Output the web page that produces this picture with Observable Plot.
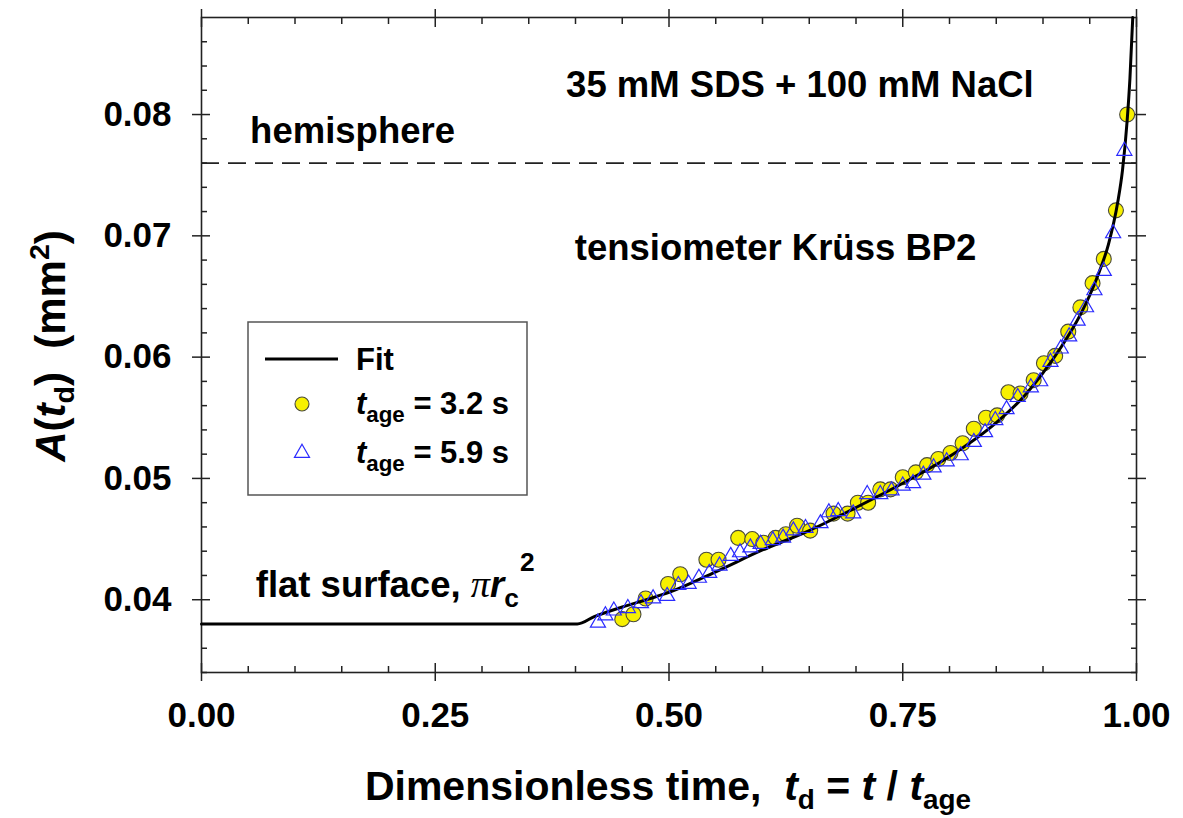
<!DOCTYPE html>
<html><head><meta charset="utf-8">
<script src="https://cdn.jsdelivr.net/npm/d3@7"></script>
<script src="https://cdn.jsdelivr.net/npm/@observablehq/plot@0.6"></script>
<style>
body{margin:0;background:#fff;font-family:"Liberation Sans",Arial,sans-serif;}
#wrap{position:relative;width:1183px;height:818px;}
#legend{position:absolute;left:0;top:0;pointer-events:none;}
</style></head><body><div id="wrap"></div>
<script>
// ---- data ----
const fitT = [0, 0.402, 0.42, 0.45, 0.48, 0.50, 0.55, 0.60, 0.65, 0.70, 0.75, 0.80, 0.85, 0.88, 0.90, 0.92, 0.94, 0.95, 0.96, 0.97, 0.98, 0.985, 0.99, 0.993, 0.996];
const fitA = [0.038, 0.038, 0.0386, 0.0394, 0.0401, 0.0406, 0.0423, 0.0441, 0.0457, 0.0476, 0.0496, 0.0518, 0.0546, 0.0568, 0.0587, 0.0609, 0.0635, 0.0651, 0.0670, 0.0693, 0.0728, 0.0754, 0.0795, 0.0830, 0.0880];

const t32 = [0.450, 0.462, 0.475, 0.499, 0.512, 0.540, 0.553, 0.574, 0.589, 0.601, 0.614, 0.625, 0.637, 0.651, 0.676, 0.691, 0.702, 0.713, 0.726, 0.737, 0.750, 0.764, 0.776, 0.788, 0.801, 0.814, 0.826, 0.839, 0.851, 0.863, 0.876, 0.890, 0.901, 0.913, 0.927, 0.940, 0.953, 0.965, 0.978, 0.990];
const a32 = [0.0384, 0.0388, 0.0401, 0.0413, 0.0421, 0.0433, 0.0433, 0.0451, 0.0450, 0.0447, 0.0451, 0.0454, 0.0461, 0.0457, 0.0471, 0.0471, 0.0480, 0.0480, 0.0491, 0.0491, 0.0501, 0.0505, 0.0511, 0.0516, 0.0521, 0.0529, 0.0541, 0.0550, 0.0552, 0.0571, 0.0570, 0.0581, 0.0595, 0.0601, 0.0621, 0.0641, 0.0661, 0.0681, 0.0721, 0.0800];

const t59 = [0.424, 0.432, 0.441, 0.456, 0.470, 0.483, 0.498, 0.510, 0.521, 0.532, 0.543, 0.554, 0.566, 0.576, 0.587, 0.598, 0.611, 0.622, 0.633, 0.646, 0.662, 0.671, 0.681, 0.697, 0.712, 0.726, 0.738, 0.750, 0.761, 0.772, 0.783, 0.797, 0.812, 0.826, 0.838, 0.849, 0.861, 0.873, 0.887, 0.897, 0.908, 0.919, 0.928, 0.937, 0.946, 0.955, 0.965, 0.975, 0.987];
const a59 = [0.0381, 0.0387, 0.0391, 0.0393, 0.0397, 0.0401, 0.0403, 0.0412, 0.0413, 0.0418, 0.0422, 0.0428, 0.0436, 0.0439, 0.0443, 0.0446, 0.0449, 0.0451, 0.0457, 0.0459, 0.0463, 0.0472, 0.0473, 0.0471, 0.0487, 0.0487, 0.0490, 0.0494, 0.0496, 0.0503, 0.0509, 0.0514, 0.0519, 0.0530, 0.0538, 0.0548, 0.0557, 0.0567, 0.0575, 0.0580, 0.0596, 0.0607, 0.0617, 0.0630, 0.0641, 0.0655, 0.0671, 0.0702, 0.0770];

const hemisphereA = [0.076];

const xTicks = [0, 0.25, 0.5, 0.75, 1];
const xMinor = [0.05, 0.1, 0.15, 0.2, 0.3, 0.35, 0.4, 0.45, 0.55, 0.6, 0.65, 0.7, 0.8, 0.85, 0.9, 0.95];
const yTicks = [0.04, 0.05, 0.06, 0.07, 0.08];
const yMinor = [0.034, 0.036, 0.038, 0.042, 0.044, 0.046, 0.048, 0.052, 0.054, 0.056, 0.058, 0.062, 0.064, 0.066, 0.068, 0.072, 0.074, 0.076, 0.078, 0.082, 0.084, 0.086];

const noteText = ["35 mM SDS + 100 mM NaCl", "hemisphere", "tensiometer Krüss BP2", "flat surface, πr"];
const noteT = [0.640, 0.052, 0.614, 0.058];
const noteA = [0.0824, 0.0786, 0.0690, 0.04115];
const noteAnchor = ["middle", "start", "middle", "start"];

// ---- build tables ----
const fit = fitT.map((t, i) => ({t, a: fitA[i]}));
const s32 = t32.map((t, i) => ({t, a: a32[i]}));
const s59 = t59.map((t, i) => ({t, a: a59[i]}));
const notes = noteText.map((text, i) => ({text, t: noteT[i], a: noteA[i], anchor: noteAnchor[i]}));

const ink = "#222";
const blank = () => "";
const axisBase = {label: null, stroke: ink, strokeWidth: 1.5};
const FONT = "'Liberation Sans', Arial, sans-serif";

const svg = Plot.plot({
  width: 1183, height: 818,
  marginLeft: 201, marginRight: 47, marginTop: 17, marginBottom: 146,
  x: {domain: [0, 1]},
  y: {domain: [0.034, 0.088]},
  style: {fontFamily: FONT, color: "#000", background: "#fff"},
  marks: [
    Plot.ruleY(hemisphereA, {stroke: ink, strokeWidth: 1.8, strokeDasharray: "18,9"}),
    // bottom axis
    Plot.axisX(xTicks, {...axisBase, anchor: "bottom", tickSize: 9, tickPadding: 21, tickFormat: d3.format(".2f"), fontSize: 35, fontWeight: "bold"}),
    Plot.axisX(xTicks, {...axisBase, anchor: "bottom", tickSize: -9, tickFormat: blank}),
    Plot.axisX(xMinor, {...axisBase, anchor: "bottom", tickSize: -6, tickFormat: blank}),
    // top axis
    Plot.axisX(xTicks, {...axisBase, anchor: "top", tickSize: 9, tickFormat: blank}),
    Plot.axisX(xTicks, {...axisBase, anchor: "top", tickSize: -9, tickFormat: blank}),
    Plot.axisX(xMinor, {...axisBase, anchor: "top", tickSize: -6, tickFormat: blank}),
    // left axis
    Plot.axisY(yTicks, {...axisBase, anchor: "left", tickSize: 9, tickPadding: 21, tickFormat: d3.format(".2f"), fontSize: 35, fontWeight: "bold"}),
    Plot.axisY(yTicks, {...axisBase, anchor: "left", tickSize: -9, tickFormat: blank}),
    Plot.axisY(yMinor, {...axisBase, anchor: "left", tickSize: -6, tickFormat: blank}),
    // right axis
    Plot.axisY(yTicks, {...axisBase, anchor: "right", tickSize: 9, tickFormat: blank}),
    Plot.axisY(yTicks, {...axisBase, anchor: "right", tickSize: -9, tickFormat: blank}),
    Plot.axisY(yMinor, {...axisBase, anchor: "right", tickSize: -6, tickFormat: blank}),
    Plot.frame({stroke: ink, strokeWidth: 1.6}),
    Plot.dot(s32, {x: "t", y: "a", r: 7.5, fill: "#f7f000", stroke: "#4a4a3a", strokeWidth: 1.1}),
    Plot.line(fit, {x: "t", y: "a", stroke: "#000", strokeWidth: 3, curve: "monotone-x"}),
    Plot.dot(s59, {x: "t", y: "a", r: 5.6, symbol: "triangle", fill: "none", stroke: "#2b2bff", strokeWidth: 1.2}),
    Plot.text(notes, {x: "t", y: "a", text: "text", textAnchor: "start", filter: d => d.anchor === "start", fontSize: 36.5, fontWeight: "bold", fill: "#000", lineAnchor: "middle"}),
    Plot.text(notes, {x: "t", y: "a", text: "text", textAnchor: "middle", filter: d => d.anchor === "middle", fontSize: 36.5, fontWeight: "bold", fill: "#000", lineAnchor: "middle"})
  ]
});

document.getElementById("wrap").appendChild(svg);
const S = d3.select(svg);

// rich text for the flat-surface note
S.selectAll("text").filter(function() { return this.textContent === "flat surface, πr"; }).each(function() {
  const t = d3.select(this);
  this.textContent = "";
  t.append("tspan").text("flat surface, ");
  t.append("tspan").attr("font-family", "'Liberation Serif', serif").attr("font-style", "italic").attr("font-weight", "normal").attr("font-size", "1.05em").text("π");
  t.append("tspan").attr("font-style", "italic").text("r");
  t.append("tspan").attr("font-size", "0.72em").attr("dy", "0.35em").text("c");
  t.append("tspan").attr("font-size", "0.72em").attr("dy", "-1.35em").attr("dx", "0.05em").text("2");
});

// axis titles
const xt = S.append("text").attr("x", 668).attr("y", 800).attr("text-anchor", "middle")
  .attr("font-size", 41).attr("font-weight", "bold").style("white-space", "pre")
  .attr("font-family", FONT);
xt.append("tspan").text("Dimensionless time,  ");
xt.append("tspan").attr("font-style", "italic").text("t");
xt.append("tspan").attr("font-size", "0.68em").attr("dy", "0.33em").text("d");
xt.append("tspan").attr("dy", "-0.23em").text(" = ");
xt.append("tspan").attr("font-style", "italic").text("t");
xt.append("tspan").text(" / ");
xt.append("tspan").attr("font-style", "italic").text("t");
xt.append("tspan").attr("font-size", "0.68em").attr("dy", "0.33em").text("age");

const yt = S.append("text").attr("transform", "translate(65,346) rotate(-90)").attr("text-anchor", "middle")
  .attr("font-size", 42).attr("font-weight", "bold").style("white-space", "pre")
  .attr("font-family", FONT);
yt.append("tspan").attr("font-style", "italic").text("A");
yt.append("tspan").text("(");
yt.append("tspan").attr("font-style", "italic").text("t");
yt.append("tspan").attr("font-size", "0.68em").attr("dy", "0.33em").text("d");
yt.append("tspan").attr("dy", "-0.23em").text(")  (mm");
yt.append("tspan").attr("font-size", "0.68em").attr("dy", "-0.55em").text("2");
yt.append("tspan").attr("dy", "0.37em").text(")");

// legend
const L = d3.select("#wrap").append("svg").attr("id", "legend").attr("width", 1183).attr("height", 818);
L.append("rect").attr("x", 248).attr("y", 322).attr("width", 279).attr("height", 173).attr("fill", "#fff").attr("stroke", "#555").attr("stroke-width", 1.5);
L.append("line").attr("x1", 265).attr("x2", 338).attr("y1", 359).attr("y2", 359).attr("stroke", "#000").attr("stroke-width", 3);
L.append("circle").attr("cx", 302).attr("cy", 404).attr("r", 7).attr("fill", "#f7f000").attr("stroke", "#4a4a3a").attr("stroke-width", 1.1);
L.append("path").attr("d", d3.symbol(d3.symbolTriangle, 5.6 * 5.6 * Math.PI)()).attr("transform", "translate(302,453)").attr("fill", "none").attr("stroke", "#2b2bff").attr("stroke-width", 1.2);
function lt(y) {
  return L.append("text").attr("x", 356).attr("y", y).style("white-space", "pre")
    .attr("font-size", 31).attr("font-weight", "bold").attr("font-family", FONT);
}
lt(370).text("Fit");
for (const [y, v] of [[414, "3.2"], [463, "5.9"]]) {
  const t = lt(y);
  t.append("tspan").attr("font-style", "italic").text("t");
  t.append("tspan").attr("font-size", "0.72em").attr("dy", "0.35em").text("age");
  t.append("tspan").attr("dy", "-0.25em").text(" = " + v + " s");
}
</script></body></html>
